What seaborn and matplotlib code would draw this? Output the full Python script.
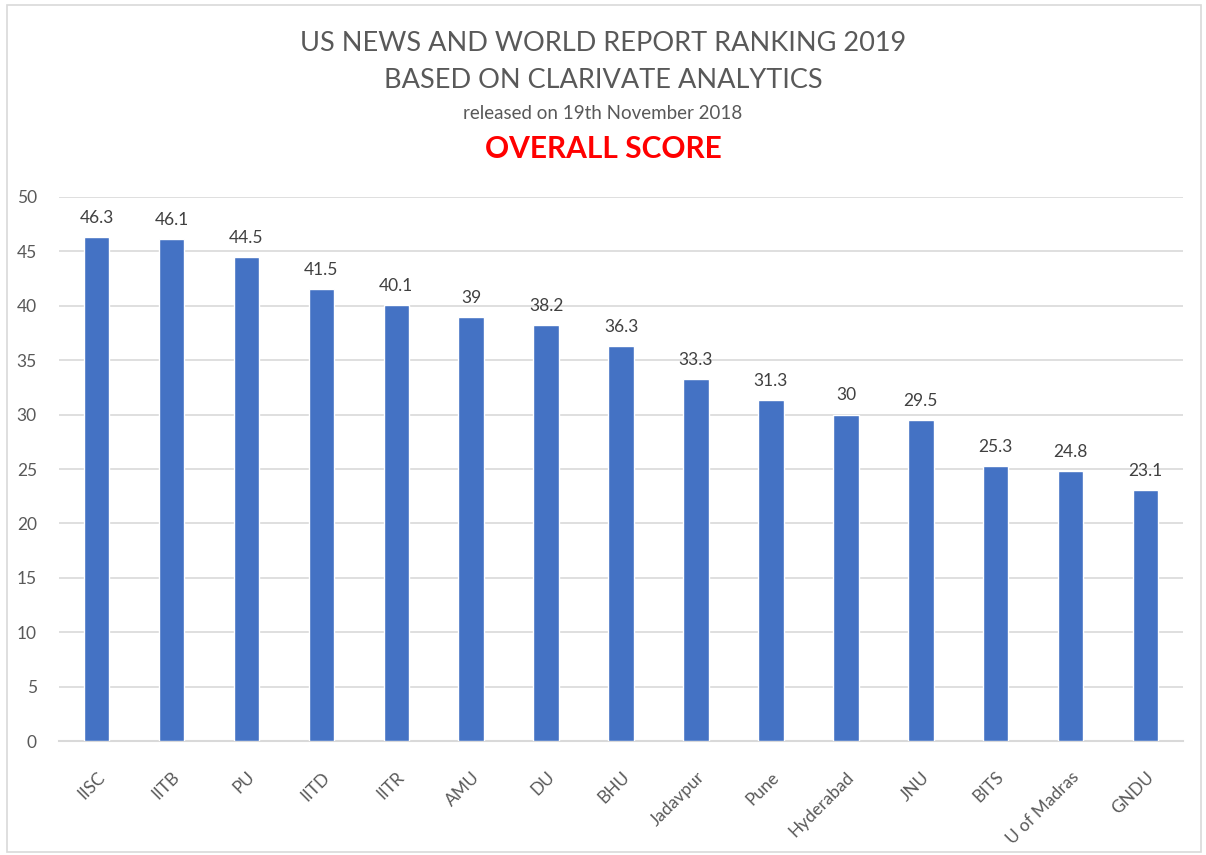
import pandas as pd
import seaborn as sns
import matplotlib.pyplot as plt
from matplotlib.patches import Rectangle

# Scores
universities = ['IISC', 'IITB', 'PU', 'IITD', 'IITR', 'AMU', 'DU', 'BHU', 'Jadavpur',
                'Pune', 'Hyderabad', 'JNU', 'BITS', 'U of Madras', 'GNDU']
scores = [46.3, 46.1, 44.5, 41.5, 40.1, 39, 38.2, 36.3, 33.3, 31.3, 30, 29.5, 25.3, 24.8, 23.1]
score_labels = ['46.3', '46.1', '44.5', '41.5', '40.1', '39', '38.2', '36.3', '33.3',
                '31.3', '30', '29.5', '25.3', '24.8', '23.1']

df = pd.DataFrame({'University': universities, 'Score': scores})

sns.set_theme(style='white')
plt.rcParams['font.family'] = ['Lato', 'DejaVu Sans']

fig = plt.figure(figsize=(12.06, 8.55), dpi=100)
ax = fig.add_axes([0.049, 0.1333, 0.932, 0.6363])

sns.barplot(data=df, x='University', y='Score', color='#4472C4', width=0.34,
            saturation=1, ax=ax, zorder=3)

ax.set_ylim(0, 50)
ax.set_yticks(range(0, 51, 5))
ax.yaxis.grid(True, color='#d9d9d9', linewidth=1.2, zorder=0)
ax.set_xlabel('')
ax.set_ylabel('')
for side in ['top', 'right', 'left']:
    ax.spines[side].set_visible(False)
ax.spines['bottom'].set_color('#d9d9d9')
ax.spines['bottom'].set_linewidth(1.5)
ax.tick_params(axis='both', length=0, colors='#595959', labelsize=12.5)
ax.tick_params(axis='y', pad=16)
ax.tick_params(axis='x', pad=20)
plt.setp(ax.get_xticklabels(), rotation=45, ha='right', rotation_mode='anchor')

for i, lab in enumerate(score_labels):
    ax.annotate(lab, (i, scores[i]), xytext=(0, 8), textcoords='offset points',
                ha='center', va='bottom', fontsize=12.5, color='#404040')

fig.text(0.5, 0.949, 'US NEWS AND WORLD REPORT RANKING 2019', ha='center', va='center',
         fontsize=19.5, color='#595959')
fig.text(0.5, 0.906, 'BASED ON CLARIVATE ANALYTICS', ha='center', va='center',
         fontsize=19.5, color='#595959')
fig.text(0.5, 0.867, 'released on 19th November 2018', ha='center', va='center',
         fontsize=13.5, color='#595959')
fig.text(0.5, 0.826, 'OVERALL SCORE', ha='center', va='center',
         fontsize=21.5, color='#ff0000', fontweight='bold')

fig.patches.append(Rectangle((0.006, 0.004), 0.99, 0.99, transform=fig.transFigure,
                             fill=False, edgecolor='#d9d9d9', linewidth=1.2))

plt.savefig('out.png', dpi=100)
